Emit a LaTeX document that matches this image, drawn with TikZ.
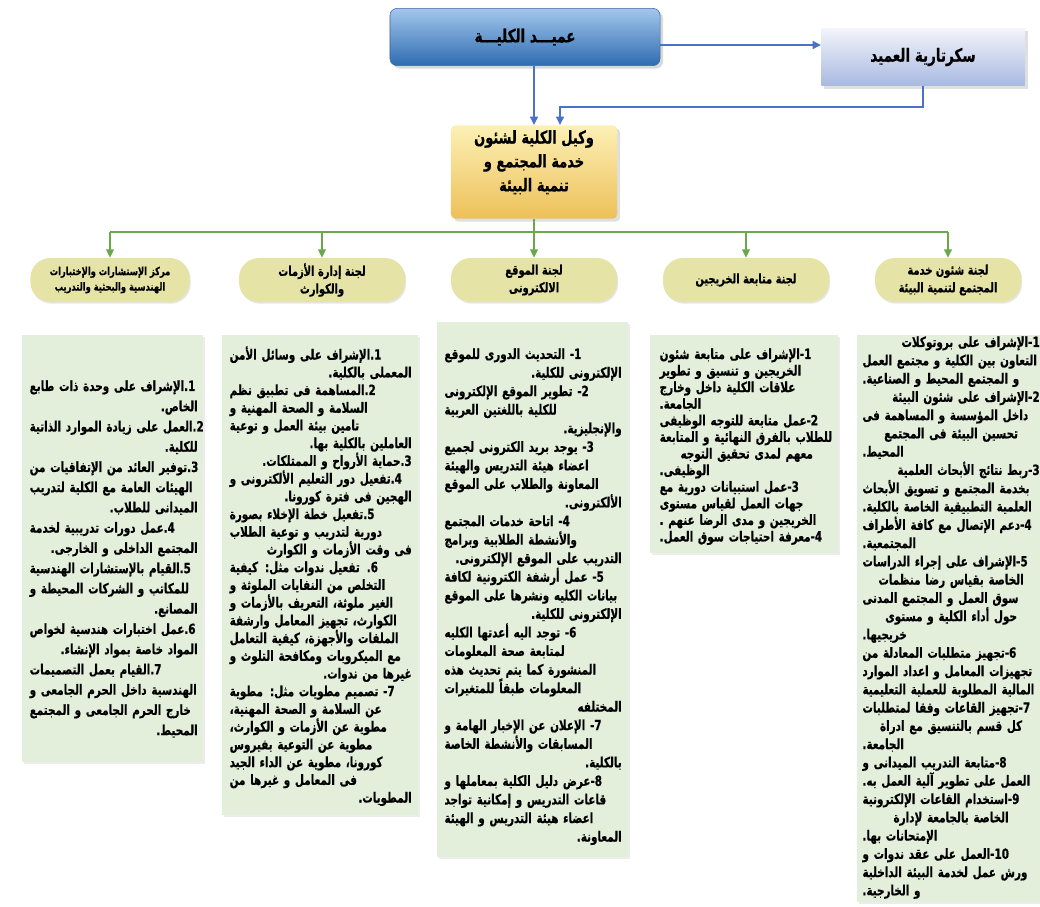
\documentclass[tikz,border=0pt]{standalone}
\usepackage{fontspec}
\usepackage{xcolor}
\usetikzlibrary{shadows,arrows.meta}
\newfontfamily\arabicfont[Script=Arabic,FakeStretch=0.74,FakeBold=0.5]{DejaVu Sans}
\TeXXeTstate=1
\hbadness=10000 \hfuzz=40pt
\lineskiplimit=-20pt
\newcommand\rl[1]{\beginR #1\endR}
\newcommand\jrow[1]{\hbox to\hsize{\beginR #1\endR}}
\newcommand\rrow[1]{\hbox to\hsize{\hfil\beginR #1\endR}}
\newcommand\lrow[1]{\hbox to\hsize{\beginR #1\endR\hfil}}
\newcommand\crow[1]{\hbox to\hsize{\hfil\beginR #1\endR\hfil}}
\definecolor{DeanTop}{HTML}{A3C7EC}
\definecolor{DeanBot}{HTML}{2E6CB1}
\definecolor{DeanLine}{HTML}{3A68A0}
\definecolor{SecTop}{HTML}{F3F4FB}
\definecolor{SecBot}{HTML}{A8B9E1}
\definecolor{ViceTop}{HTML}{FCF0B6}
\definecolor{ViceBot}{HTML}{EDC058}
\definecolor{LinkBlue}{HTML}{4A72C6}
\definecolor{LinkGreen}{HTML}{6AA84B}
\definecolor{PillFill}{HTML}{E5E3A6}
\definecolor{PanelFill}{HTML}{E3EEDB}

\begin{document}
\begin{tikzpicture}[x=0.025cm,y=-0.025cm,
  blueconn/.style={LinkBlue,line width=1.4pt},
  greenconn/.style={LinkGreen,line width=1.6pt},
  tip/.style={-{Triangle[length=6pt,width=5.5pt]}},
  pill/.style={fill=PillFill,rounded corners=0.5cm,minimum height=1.1cm,inner sep=1pt,align=center,
    font=\arabicfont\bfseries\fontsize{9.5}{12.5}\selectfont,
    drop shadow={opacity=.2,shadow xshift=.8pt,shadow yshift=-1.2pt}},
  panel/.style={fill=PanelFill,
    drop shadow={opacity=.15,shadow xshift=1.2pt,shadow yshift=-1.2pt}},
  duties/.style={anchor=north east,inner sep=0pt}]
\path[use as bounding box] (0,0) rectangle (1040,907);

% top of the chart
\node[draw=DeanLine,top color=DeanTop,bottom color=DeanBot,rounded corners=5pt,
  minimum width=6.75cm,minimum height=1.43cm,drop shadow={opacity=.3},
  font=\arabicfont\bfseries\fontsize{13}{15}\selectfont] (dean) at (525,37) {\rl{عميـــد الكليـــة}};
\node[top color=SecTop,bottom color=SecBot,minimum width=5.08cm,minimum height=1.43cm,
  drop shadow={opacity=.25},font=\arabicfont\bfseries\fontsize{13}{15}\selectfont] (sec) at (923,57) {\rl{سكرتارية العميد}};
\node[top color=ViceTop,bottom color=ViceBot,rounded corners=3pt,minimum width=4.15cm,minimum height=2.33cm,
  align=center,text depth=16pt,drop shadow={opacity=.25},font=\arabicfont\bfseries\fontsize{12.5}{17}\selectfont] (vice) at (534,172)
  {\rl{وكيل الكلية لشئون}\\\rl{خدمة المجتمع و}\\\rl{تنمية البيئة}};

\coordinate (d2s) at (660,45);
\coordinate (s2v) at (560,107);
\draw[blueconn,tip] (d2s) -- (d2s -| sec.west);
\draw[blueconn,tip] (vice.north |- dean.south) -- (vice.north);
\draw[blueconn,tip] (sec.south) |- (s2v) -- (s2v |- vice.north);

% committees
\node[pill,minimum width=3.98cm,font=\arabicfont\bfseries\fontsize{8}{11}\selectfont] (c1) at (110,280)
  {\rl{مركز الإستشارات والإختبارات}\\\rl{الهندسية والبحثية والتدريب}};
\node[pill,minimum width=4.15cm] (c2) at (322,280) {\rl{لجنة إدارة الأزمات}\\\rl{والكوارث}};
\node[pill,minimum width=4.15cm] (c3) at (534,280) {\rl{لجنة الموقع}\\\rl{الالكترونى}};
\node[pill,minimum width=4.15cm] (c4) at (746,280) {\rl{لجنة متابعة الخريجين}};
\node[pill,minimum width=3.65cm] (c5) at (948,280) {\rl{لجنة شئون خدمة}\\\rl{المجتمع لتنمية البيئة}};

\coordinate (bus) at (534,232);
\draw[greenconn] (vice.south) -- (bus);
\draw[greenconn] (c1.north |- bus) -- (c5.north |- bus);
\foreach \c in {c1,c2,c3,c4,c5}
  \draw[greenconn,tip] (\c.north |- bus) -- (\c.north);

% duty panels
\path[panel] (22,335) rectangle (203,762);
\path[panel] (222,335) rectangle (418,815);
\path[panel] (437,322) rectangle (628,857);
\path[panel] (650,335) rectangle (838,553);
\path[panel] (857,335) rectangle (1040,902);

\node[duties,text width=4.2cm,font=\arabicfont\bfseries\fontsize{10}{14.4}\selectfont] (t1) at (198,380) {
\jrow{1.الإشراف على وحدة ذات طابع}
\rrow{الخاص.}
\jrow{2.العمل على زيادة الموارد الذاتية}
\rrow{للكلية.}
\jrow{3.توفير العائد من الإتفاقيات من}
\jrow{الهيئات العامة مع الكلية لتدريب}
\rrow{الميدانى للطلاب.}
\jrow{4.عمل دورات تدريبية لخدمة}
\rrow{المجتمع الداخلى و الخارجى.}
\jrow{5.القيام بالإستشارات الهندسية}
\jrow{للمكاتب و الشركات المحيطة و}
\rrow{المصانع.}
\jrow{6.عمل اختبارات هندسية لخواص}
\rrow{المواد خاصة بمواد الإنشاء.}
\jrow{7.القيام بعمل التصميمات}
\jrow{الهندسية داخل الحرم الجامعى و}
\jrow{خارج الحرم الجامعى و المجتمع}
\rrow{المحيط.}};

\node[duties,text width=4.55cm,font=\arabicfont\bfseries\fontsize{10}{12.6}\selectfont] (t2) at (412,346) {
\jrow{1.الإشراف على وسائل الأمن}
\rrow{المعملى بالكلية.}
\jrow{2.المساهمة فى تطبيق نظم}
\jrow{السلامة و الصحة المهنية و}
\jrow{تامين بيئة العمل و توعية}
\rrow{العاملين بالكلية بها.}
\rrow{3.حماية الأرواح و الممتلكات.}
\jrow{4.تفعيل دور التعليم الألكترونى و}
\rrow{الهجين فى فترة كورونا.}
\jrow{5.تفعيل خطة الإخلاء بصورة}
\jrow{دورية لتدريب و توعية الطلاب}
\rrow{فى وقت الأزمات و الكوارث}
\jrow{6. تفعيل ندوات مثل: كيفية}
\jrow{التخلص من النفايات الملوثة و}
\jrow{الغير ملوثة، التعريف بالأزمات و}
\jrow{الكوارث، تجهيز المعامل وارشفة}
\jrow{الملفات والأجهزة، كيفية التعامل}
\jrow{مع الميكروبات ومكافحة التلوث و}
\rrow{غيرها من ندوات.}
\jrow{7- تصميم مطويات مثل: مطوية}
\jrow{عن السلامة و الصحة المهنية،}
\jrow{مطوية عن الأزمات و الكوارث،}
\jrow{مطوية عن التوعية بفيروس}
\jrow{كورونا، مطوية عن الداء الجيد}
\jrow{فى المعامل و غيرها من}
\rrow{المطويات.}};

\node[duties,text width=4.43cm,font=\arabicfont\bfseries\fontsize{10}{13.2}\selectfont] (t3) at (622,348) {
\jrow{1- التحديث الدورى للموقع}
\rrow{الإلكترونى للكلية.}
\jrow{2- تطوير الموقع الإلكترونى}
\jrow{للكلية باللغتين العربية}
\rrow{والإنجليزية.}
\jrow{3- يوجد بريد الكترونى لجميع}
\jrow{اعضاء هيئة التدريس والهيئة}
\jrow{المعاونة والطلاب على الموقع}
\rrow{الألكترونى.}
\jrow{4- اتاحة خدمات المجتمع}
\jrow{والأنشطة الطلابية وبرامج}
\rrow{التدريب على الموقع الإلكترونى.}
\jrow{5- عمل أرشفة الكترونية لكافة}
\jrow{بيانات الكليه ونشرها على الموقع}
\rrow{الإلكترونى للكلية.}
\jrow{6- توجد اليه أعدتها الكليه}
\jrow{لمتابعة صحة المعلومات}
\jrow{المنشورة كما يتم تحديث هذه}
\jrow{المعلومات طبقاً للمتغيرات}
\rrow{المختلفه}
\jrow{7- الإعلان عن الإخبار الهامة و}
\jrow{المسابقات والأنشطة الخاصة}
\rrow{بالكلية.}
\jrow{8-عرض دليل الكلية بمعاملها و}
\jrow{قاعات التدريس و إمكانية تواجد}
\jrow{اعضاء هيئة التدريس و الهيئة}
\rrow{المعاونة.}};

\node[duties,text width=4.35cm,font=\arabicfont\bfseries\fontsize{10}{11.8}\selectfont] (t4) at (834,348) {
\jrow{1-الإشراف على متابعة شئون}
\jrow{الخريجين و تنسيق و تطوير}
\jrow{علاقات الكلية داخل وخارج}
\lrow{الجامعة.}
\jrow{2-عمل متابعة للتوجه الوظيفى}
\jrow{للطلاب بالفرق النهائية و المتابعة}
\crow{معهم لمدى تحقيق التوجه}
\lrow{الوظيفى.}
\jrow{3-عمل استبيانات دورية مع}
\jrow{جهات العمل لقياس مستوى}
\jrow{الخريجين و مدى الرضا عنهم .}
\jrow{4-معرفة احتياجات سوق العمل.}};

\node[duties,text width=4.43cm,font=\arabicfont\bfseries\fontsize{10}{13}\selectfont] (t5) at (1040,336) {
\rrow{1-الإشراف على بروتوكلات}
\jrow{التعاون بين الكلية و مجتمع العمل}
\jrow{و المجتمع المحيط و الصناعية.}
\rrow{2-الإشراف على شئون البيئة}
\jrow{داخل المؤسسة و المساهمة فى}
\crow{تحسين البيئة فى المجتمع}
\lrow{المحيط.}
\rrow{3-ربط نتائج الأبحاث العلمية}
\jrow{بخدمة المجتمع و تسويق الأبحاث}
\jrow{العلمية التطبيقية الخاصة بالكلية.}
\jrow{4-دعم الإتصال مع كافة الأطراف}
\lrow{المجتمعية.}
\jrow{5-الإشراف على إجراء الدراسات}
\crow{الخاصة بقياس رضا منظمات}
\jrow{سوق العمل و المجتمع المدنى}
\crow{حول أداء الكلية و مستوى}
\lrow{خريجيها.}
\jrow{6-تجهيز متطلبات المعادلة من}
\jrow{تجهيزات المعامل و اعداد الموارد}
\jrow{المالية المطلوبة للعملية التعليمية}
\jrow{7-تجهيز القاعات وفقا لمتطلبات}
\crow{كل قسم بالتنسيق مع ادراة}
\lrow{الجامعة.}
\jrow{8-متابعة التدريب الميدانى و}
\jrow{العمل على تطوير آلية العمل به.}
\jrow{9-استخدام القاعات الإلكترونية}
\crow{الخاصة بالجامعة لإدارة}
\lrow{الإمتحانات بها.}
\jrow{10-العمل على عقد ندوات و}
\jrow{ورش عمل لخدمة البيئة الداخلية}
\lrow{و الخارجية.}};
\end{tikzpicture}
\end{document}
